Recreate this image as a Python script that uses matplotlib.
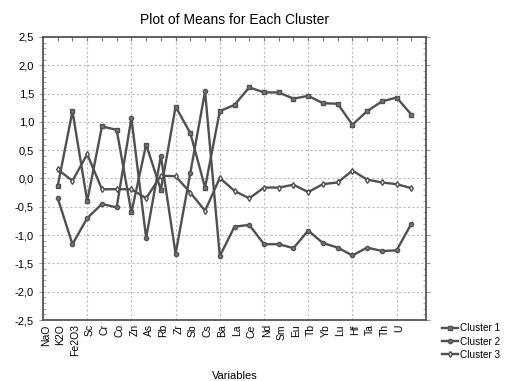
import numpy as np
import matplotlib
matplotlib.use('Agg')
import matplotlib.pyplot as plt
from matplotlib.transforms import ScaledTranslation
from matplotlib.ticker import MultipleLocator, FuncFormatter

plt.rcParams['font.family'] = ['Liberation Sans', 'DejaVu Sans']

variables = ['NaO', 'K2O', 'Fe2O3', 'Sc', 'Cr', 'Co', 'Zn', 'As', 'Rb', 'Zr',
             'Sb', 'Cs', 'Ba', 'La', 'Ce', 'Nd', 'Sm', 'Eu', 'Tb', 'Yb',
             'Lu', 'Hf', 'Ta', 'Th', 'U']

cluster1 = [-0.13, 1.19, -0.40, 0.92, 0.86, -0.60, 0.60, -0.20, 1.27, 0.80,
            -0.16, 1.19, 1.30, 1.61, 1.52, 1.52, 1.41, 1.46, 1.33, 1.32,
            0.95, 1.19, 1.36, 1.43, 1.13]
cluster2 = [-0.35, -1.16, -0.70, -0.45, -0.51, 1.07, -1.05, 0.40, -1.33, 0.10,
            1.54, -1.37, -0.85, -0.82, -1.16, -1.16, -1.23, -0.92, -1.14, -1.22,
            -1.36, -1.22, -1.28, -1.27, -0.80]
cluster3 = [0.16, -0.04, 0.43, -0.19, -0.19, -0.19, -0.35, 0.05, 0.04, -0.25,
            -0.57, 0.01, -0.22, -0.35, -0.16, -0.16, -0.11, -0.24, -0.10, -0.07,
            0.14, -0.02, -0.07, -0.10, -0.17]

x = np.arange(1, len(variables) + 1)
line_col = '#505050'

fig = plt.figure(figsize=(5.06, 3.81), dpi=100)
ax = fig.add_axes([0.085, 0.160, 0.757, 0.743])

ax.plot(x, cluster1, color=line_col, lw=1.7, marker='s', ms=3,
        mfc='#777777', mec=line_col, label='Cluster 1')
ax.plot(x, cluster2, color=line_col, lw=1.7, marker='o', ms=3,
        mfc='#777777', mec=line_col, label='Cluster 2')
ax.plot(x, cluster3, color=line_col, lw=1.7, marker='d', ms=3,
        mfc='white', mec=line_col, label='Cluster 3')

ax.set_xlim(0, len(variables) + 1)
ax.set_ylim(-2.5, 2.5)

# grid: horizontal every 0.5, vertical every third category
ax.yaxis.set_major_locator(MultipleLocator(0.5))
ax.yaxis.set_minor_locator(MultipleLocator(0.1))
ax.yaxis.set_major_formatter(FuncFormatter(lambda v, p: f'{v:.1f}'.replace('.', ',')))
for gx in range(3, len(variables), 3):
    ax.axvline(gx, color='#bbbbbb', lw=0.8, ls=(0, (2, 2)), zorder=0)
ax.grid(axis='y', color='#bbbbbb', lw=0.8, ls=(0, (2, 2)))
ax.set_axisbelow(True)

ax.set_xticks(x)
ax.set_xticklabels(variables, rotation=90, fontsize=7.5)
ax.tick_params(axis='x', bottom=False, top=True, direction='in', length=3,
               color='#777777', pad=3)
ax.tick_params(axis='y', which='major', labelsize=8, direction='out',
               length=3, color='#999999', right=True)
ax.tick_params(axis='y', which='minor', direction='in', length=2,
               color='#999999', right=True)

# category labels sit a little left of their points, as in the original
shift = ScaledTranslation(-12 / 100, 0, fig.dpi_scale_trans)
for lab in ax.get_xticklabels():
    lab.set_transform(lab.get_transform() + shift)

for s in ax.spines.values():
    s.set_color('#555555')
    s.set_linewidth(1.3)

ax.set_title('Plot of Means for Each Cluster', fontsize=10, pad=9)
ax.set_xlabel('Variables', fontsize=8, labelpad=11)

ax.legend(loc='upper left', bbox_to_anchor=(1.042, -0.012), frameon=False,
          fontsize=7.2, handlelength=1.6, handletextpad=0.15, labelspacing=0.32,
          borderaxespad=0, borderpad=0)

fig.savefig('out.png', dpi=100)
